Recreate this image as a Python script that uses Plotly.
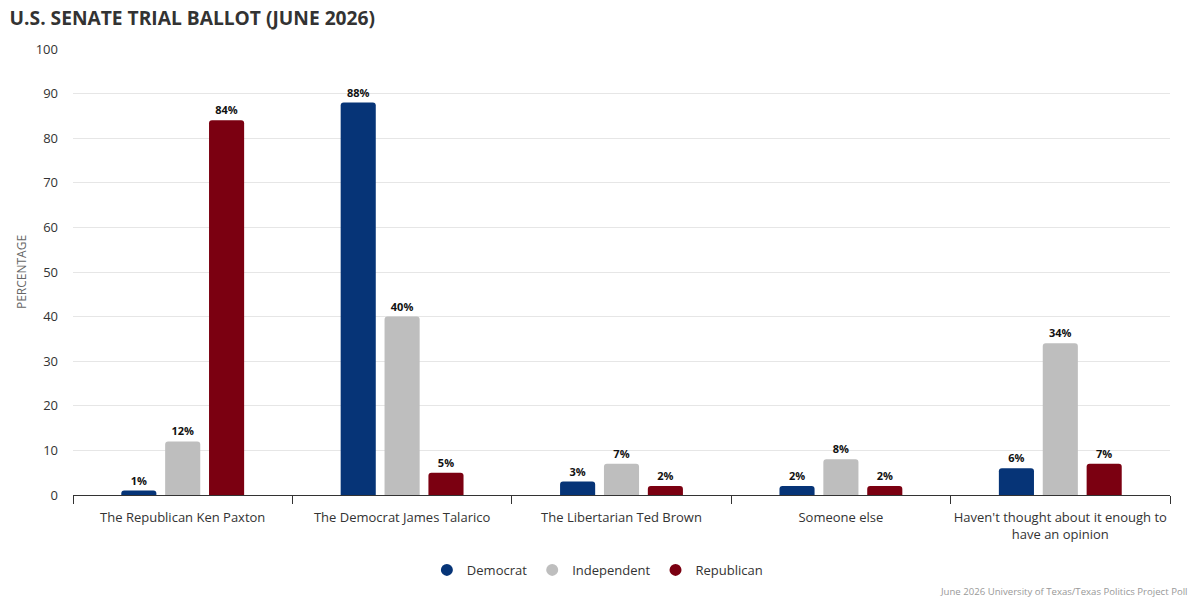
import plotly.graph_objects as go

categories = [
    "The Republican Ken Paxton",
    "The Democrat James Talarico",
    "The Libertarian Ted Brown",
    "Someone else",
    "Haven't thought about it enough to<br>have an opinion",
]
democrat = [1, 88, 3, 2, 6]
independent = [12, 40, 7, 8, 34]
republican = [84, 5, 2, 2, 7]

series = [
    ("Democrat", democrat, "#063477"),
    ("Independent", independent, "#bebebe"),
    ("Republican", republican, "#7b0011"),
]

fig = go.Figure()
for name, vals, color in series:
    fig.add_trace(go.Bar(
        x=categories, y=vals, name=name,
        marker=dict(color=color, line=dict(width=0)),
        text=[f"{v}%" for v in vals],
        textposition="outside",
        textfont=dict(family="Open Sans", size=11, color="#111111", weight="bold"),
        cliponaxis=False,
        showlegend=False,
        hoverinfo="skip",
    ))
for name, vals, color in series:
    fig.add_trace(go.Scatter(
        x=[None], y=[None], mode="markers", name=name,
        marker=dict(color=color, size=12, symbol="circle"),
        showlegend=True,
    ))

fig.update_layout(
    width=1200, height=600,
    margin=dict(l=73, r=30, t=49, b=105, autoexpand=False),
    paper_bgcolor="white", plot_bgcolor="white",
    font=dict(family="Open Sans", size=13, color="#333333"),
    barmode="group", bargap=0.4, bargroupgap=0.2, barcornerradius=3,
    title=dict(text="<b>U.S. SENATE TRIAL BALLOT (JUNE 2026)</b>",
               x=0.008, xanchor="left", y=0.97, yanchor="middle",
               font=dict(family="Open Sans", size=19.2, color="#333333")),
    legend=dict(orientation="h", x=0.478, xanchor="center", y=-0.168, yanchor="middle",
                font=dict(size=13, color="#333333"), itemsizing="trace"),
    xaxis=dict(
        showline=True, linecolor="#333333", linewidth=1,
        ticks="outside", tickson="boundaries", ticklen=8, tickcolor="#333333",
        showgrid=False, tickfont=dict(size=13, color="#333333"),
        tickangle=0, automargin=False, ticklabelstandoff=10,
    ),
    yaxis=dict(
        range=[0, 100], dtick=10, showgrid=True, gridcolor="#e6e6e6",
        zeroline=False, showline=False, ticks="", automargin=False,
        ticklabelstandoff=14,
        tickfont=dict(size=13, color="#333333"),
        title=dict(text="PERCENTAGE", font=dict(size=12, color="#666666"), standoff=6),
    ),
    annotations=[dict(
        text="June 2026 University of Texas/Texas Politics Project Poll",
        xref="paper", yref="paper", x=1.0 + 20/1097, y=-(591-495)/446,
        xanchor="right", yanchor="middle", showarrow=False,
        font=dict(size=9.6, color="#999999"),
    )],
)

fig.write_html("out.html")
